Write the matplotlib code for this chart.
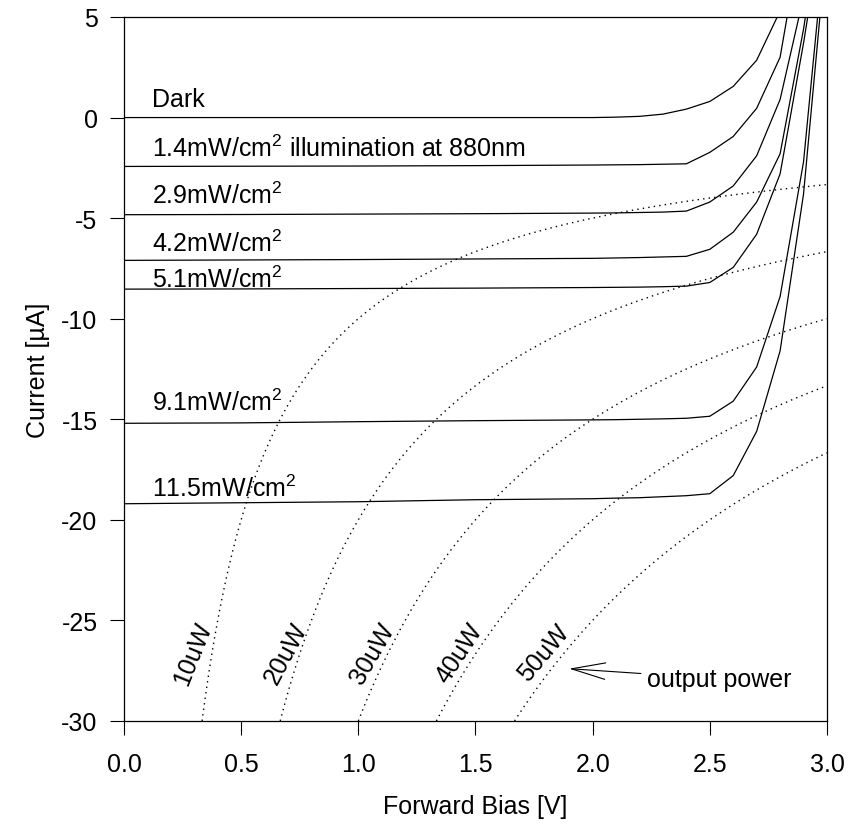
import numpy as np
import matplotlib
matplotlib.use("Agg")
import matplotlib.pyplot as plt

plt.rcParams['font.family'] = ['Liberation Sans', 'DejaVu Sans']
plt.rcParams['mathtext.fontset'] = 'custom'
plt.rcParams['mathtext.rm'] = 'Liberation Sans'
plt.rcParams['mathtext.default'] = 'regular'
plt.rcParams['axes.unicode_minus'] = False

# forward bias points (V)
bias = [0.0, 0.5, 1.0, 1.5, 2.0, 2.1, 2.2, 2.3, 2.4, 2.5, 2.6, 2.7, 2.8, 2.9, 3.0]

# current (uA) for each illumination level
dark   = [0.0, 0.0, 0.0, 0.0, 0.0, 0.02, 0.06, 0.17, 0.42, 0.8, 1.55, 2.85, 5.3, 12.0, 20.0]
i_1p4  = [-2.43, -2.42, -2.41, -2.39, -2.36, -2.35, -2.34, -2.32, -2.3, -1.73, -0.94, 0.46, 3.0, 9.7, 18.0]
i_2p9  = [-4.83, -4.82, -4.8, -4.78, -4.75, -4.74, -4.72, -4.7, -4.65, -4.2, -3.4, -1.9, 0.9, 6.0, 14.0]
i_4p2  = [-7.1, -7.08, -7.06, -7.03, -7.0, -6.98, -6.96, -6.93, -6.9, -6.55, -5.7, -4.2, -1.8, 4.4, 12.0]
i_5p1  = [-8.53, -8.52, -8.5, -8.48, -8.45, -8.44, -8.43, -8.41, -8.38, -8.2, -7.45, -5.8, -2.8, 3.7, 11.0]
i_9p1  = [-15.2, -15.18, -15.12, -15.07, -15.03, -15.02, -15.0, -14.98, -14.95, -14.85, -14.1, -12.4, -8.9, -2.2, 9.8]
i_11p5 = [-19.2, -19.15, -19.1, -19.0, -18.95, -18.92, -18.9, -18.85, -18.8, -18.7, -17.8, -15.6, -11.6, -3.8, 8.8]

curves = [dark, i_1p4, i_2p9, i_4p2, i_5p1, i_9p1, i_11p5]
curve_labels = ["Dark",
                "1.4mW/cm$^2$ illumination at 880nm",
                "2.9mW/cm$^2$",
                "4.2mW/cm$^2$",
                "5.1mW/cm$^2$",
                "9.1mW/cm$^2$",
                "11.5mW/cm$^2$"]
label_y = [0.57, -1.92, -4.25, -6.64, -8.43, -14.55, -18.83]

# constant output power contours (uW)
powers = [10, 20, 30, 40, 50]
power_labels = ["10uW", "20uW", "30uW", "40uW", "50uW"]
power_lab_x = [0.295, 0.69, 1.06, 1.43, 1.79]
power_lab_rot = [68, 62, 60, 57, 50]

FS = 18

fig = plt.figure(figsize=(8.48, 8.29), dpi=100)
ax = fig.add_axes([0.1462, 0.1291, 0.829, 0.8492])

for cur in curves:
    ax.plot(bias, cur, color='black', lw=0.9)

vv, ii = np.meshgrid(np.linspace(0.01, 3.0, 600), np.linspace(-30, 5, 600))
ax.contour(vv, ii, vv * ii, levels=sorted(-p for p in powers),
           colors='black', linewidths=1.0, linestyles=[(0, (1, 3))])

for txt, y in zip(curve_labels, label_y):
    ax.text(0.12, y, txt, fontsize=FS, ha='left', va='baseline')

for txt, x, r in zip(power_labels, power_lab_x, power_lab_rot):
    ax.text(x, -26.6, txt, fontsize=FS, rotation=r, rotation_mode='anchor',
            ha='center', va='center')

ax.annotate("output power", xy=(1.9, -27.4), xytext=(2.23, -27.9),
            fontsize=FS, ha='left', va='center',
            arrowprops=dict(arrowstyle='->,head_length=1.35,head_width=0.33',
                            color='black', lw=0.8, shrinkA=2, shrinkB=0))

ax.set_xlim(0, 3)
ax.set_ylim(-30, 5)
ax.set_xticks(np.arange(0, 3.01, 0.5))
ax.set_xticklabels([f"{t:.1f}" for t in np.arange(0, 3.01, 0.5)])
ax.set_yticks(np.arange(-30, 6, 5))
ax.tick_params(direction='out', length=10, width=0.8, labelsize=FS)
ax.tick_params(axis='x', pad=12)
ax.tick_params(axis='y', pad=9)
for s in ax.spines.values():
    s.set_linewidth(0.9)

ax.set_xlabel("Forward Bias [V]", fontsize=FS, labelpad=13)
ax.set_ylabel("Current [µA]", fontsize=FS, labelpad=8)

fig.savefig("out.png", dpi=100)
